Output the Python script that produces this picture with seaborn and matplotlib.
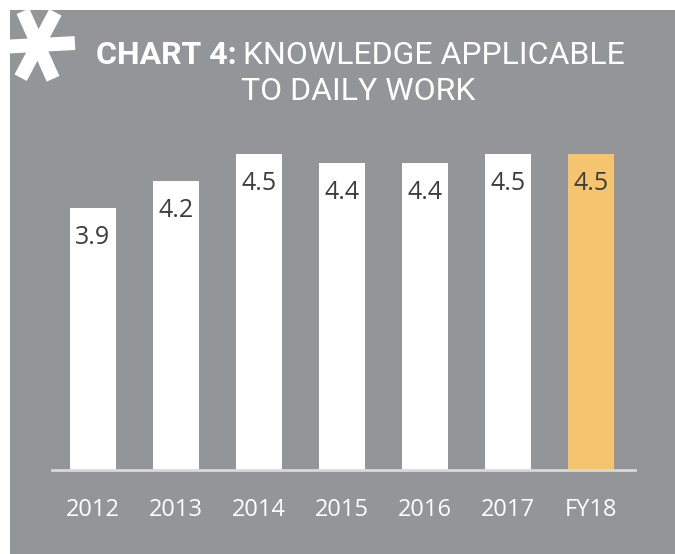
import matplotlib
matplotlib.use("Agg")
import matplotlib.pyplot as plt
import seaborn as sns
import numpy as np
import pandas as pd
from matplotlib.patches import Rectangle
from matplotlib.lines import Line2D

years = ["2012", "2013", "2014", "2015", "2016", "2017", "FY18"]
scores = [3.9, 4.2, 4.5, 4.4, 4.4, 4.5, 4.5]
bar_colors = ["#ffffff", "#ffffff", "#ffffff", "#ffffff", "#ffffff", "#ffffff", "#f5c46f"]
title_bold = "CHART 4:"
title_rest = "KNOWLEDGE APPLICABLE"
title_line2 = "TO DAILY WORK"

sns.set_theme(style="white")
plt.rcParams["font.family"] = ["Open Sans", "DejaVu Sans"]

W, H = 675, 554
fig = plt.figure(figsize=(W / 100, H / 100), dpi=100)
fig.patch.set_facecolor("white")
fig.add_artist(Rectangle((10 / W, 0), 1 - 10 / W, 1 - 10 / H, transform=fig.transFigure,
                         facecolor="#939598", edgecolor="none", zorder=0))

# asterisk
cx, cy, L = 38, 45, 37
for ang in [3, 62, 114]:
    a = np.deg2rad(ang)
    x0, x1 = cx - L * np.cos(a), cx + L * np.cos(a)
    y0, y1 = cy + L * np.sin(a), cy - L * np.sin(a)
    fig.add_artist(Line2D([x0 / W, x1 / W], [1 - y0 / H, 1 - y1 / H], transform=fig.transFigure,
                          color="white", linewidth=10, solid_capstyle="butt", zorder=2))

ax = fig.add_axes([52 / W, 84 / H, 583 / W, 361 / H])
ax.set_facecolor("none")
df = pd.DataFrame({"year": years, "score": scores})
sns.barplot(data=df, x="year", y="score", hue="year", palette=bar_colors, legend=False,
            width=0.566, saturation=1, ax=ax, edgecolor="none")
ax.set_ylim(1, 5)
ax.set_xlim(-0.494, 6.53)
for s in ["top", "right", "left"]:
    ax.spines[s].set_visible(False)
ax.spines["bottom"].set_color("#d9d9d9")
ax.spines["bottom"].set_linewidth(2)
ax.set_yticks([])
ax.set_xlabel("")
ax.set_ylabel("")
ax.tick_params(axis="x", length=0, pad=20, labelsize=17, labelcolor="white")

for i, v in enumerate(scores):
    ax.annotate(f"{v:.1f}", (i, v), xytext=(0, -21), textcoords="offset points",
                ha="center", va="center", fontsize=18, color="#3d3d3d")

fig.text(96 / W, 1 - 55 / H, title_bold, fontsize=23, fontweight="bold", color="white",
         ha="left", va="center", family="Roboto")
fig.text(243 / W, 1 - 55 / H, title_rest, fontsize=23, fontweight="normal", color="white",
         ha="left", va="center", family="Roboto")
fig.text(358 / W, 1 - 92 / H, title_line2, fontsize=23, fontweight="normal", color="white",
         ha="center", va="center", family="Roboto")

fig.savefig("out.png", dpi=100)
